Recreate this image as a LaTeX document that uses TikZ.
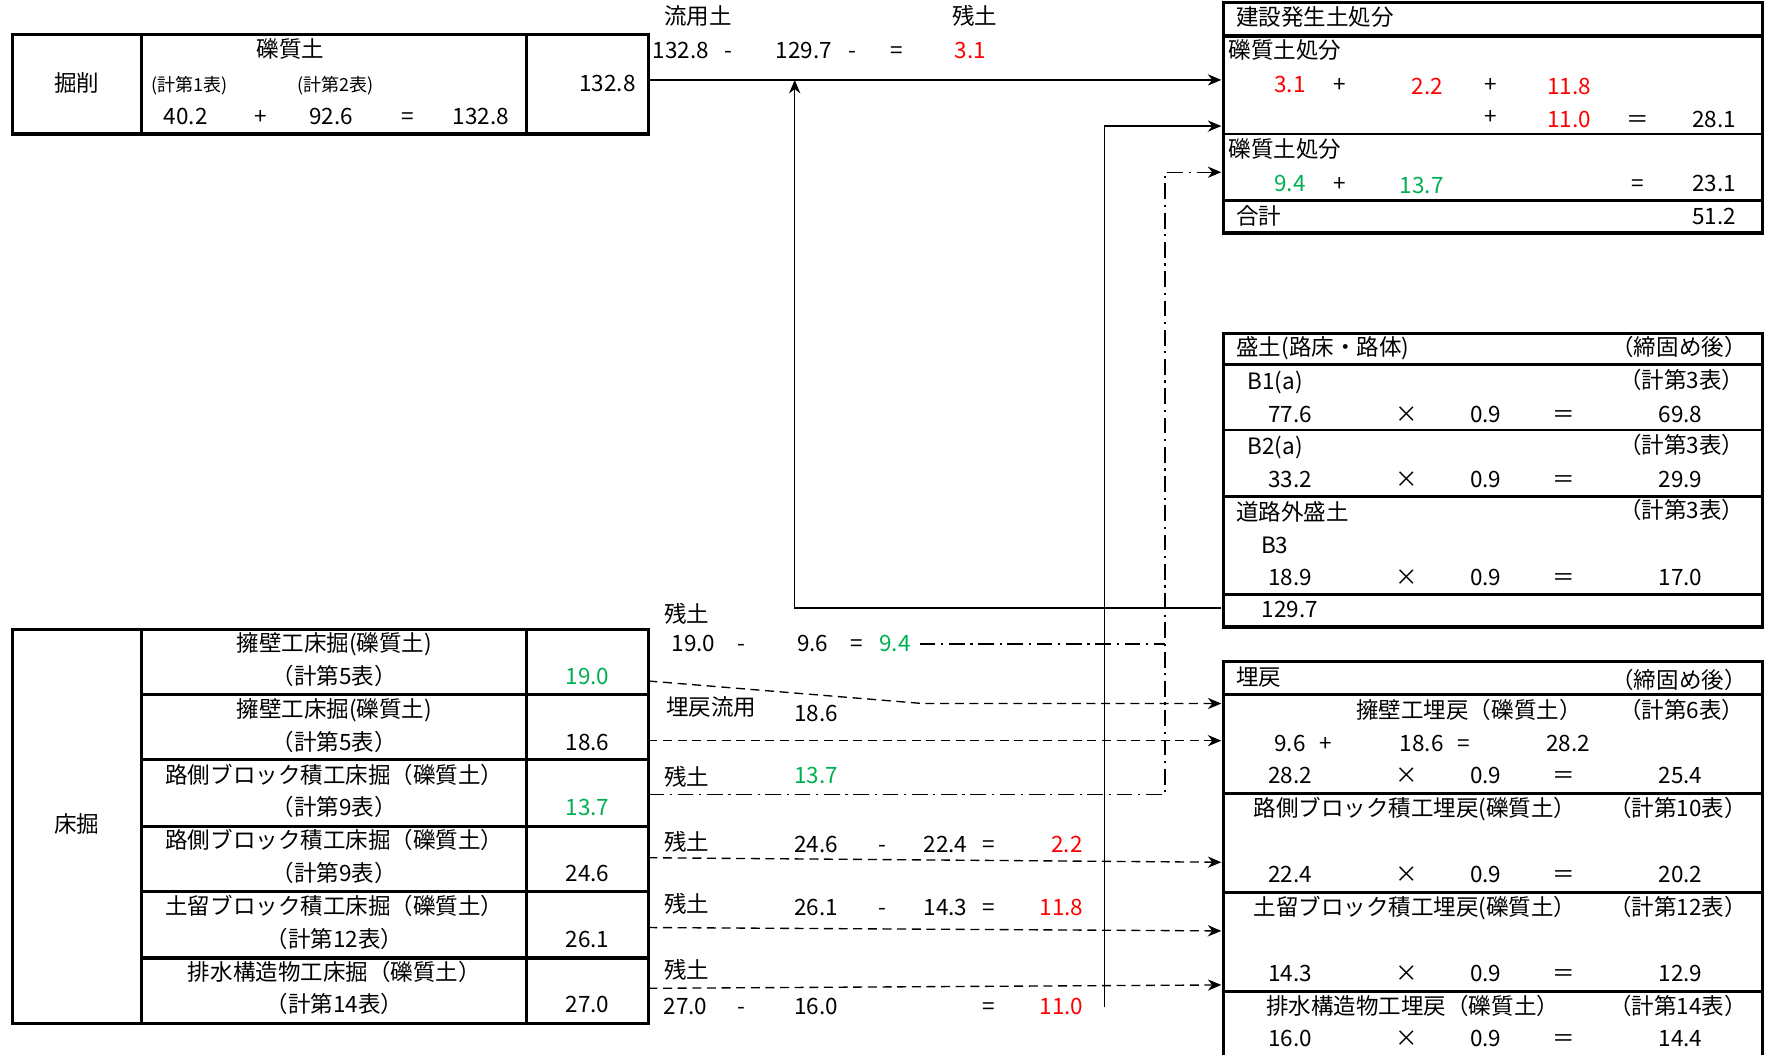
\documentclass[tikz,border=0pt]{standalone}
\usepackage{fontspec}
\setmainfont{Noto Sans CJK JP}
\usetikzlibrary{arrows.meta,positioning}
\definecolor{zanred}{RGB}{255,0,0}
\definecolor{zangreen}{RGB}{0,176,80}
\tikzset{
  frame/.style={line width=1.4pt},
  rule/.style={line width=0.6pt},
  flow/.style={-{Stealth[length=6pt,width=5pt]}, line width=0.6pt},
  dashflow/.style={flow, dash pattern=on 4pt off 2.5pt},
  chainline/.style={line width=0.6pt, dash pattern=on 7pt off 2.5pt on 1pt off 2.5pt},
  chainflow/.style={flow, chainline},
  lbl/.style={inner sep=0pt, text height=0.75em, text depth=0.15em,
    font=\fontsize{10}{12}\selectfont},
  sml/.style={lbl, font=\fontsize{8}{10}\selectfont},
}

\begin{document}
\begin{tikzpicture}[x=0.5pt, y=-0.5pt]
  \useasboundingbox (0,0) rectangle (1568,937);

  % 掘削
  \draw[frame] (11,31) rectangle (576,119);
  \draw[frame] (126,31) -- (126,119) (468,31) -- (468,119);
  \node[lbl] (kus) at (68,75) {掘削};
  \node[lbl] (kusT) at (258,45) {礫質土};
  \node[sml] (kusH1) at (168,75) {(計第1表)};
  \node[sml] (kusH2) at (298,75) {(計第2表)};
  \node[lbl] (kusV1) at (165,105) {40.2};
  \node[lbl] (kusP) at (232,105) {+};
  \node[lbl] (kusV2) at (294,105) {92.6};
  \node[lbl] (kusE) at (362,105) {=};
  \node[lbl] (kusS) at (427,105) {132.8};
  \node[lbl, anchor=east] (kusR) at (565,75) {132.8};

  % 流用土 / 残土
  \node[lbl] (ryuT) at (620,16) {流用土};
  \node[lbl] (zanT) at (866,16) {残土};
  \node[lbl] (ry1) at (605,46) {132.8};
  \node[lbl] (ry2) at (647,46) {-};
  \node[lbl] (ry3) at (714,46) {129.7};
  \node[lbl] (ry4) at (757,46) {-};
  \node[lbl] (ry5) at (797,46) {=};
  \node[lbl, text=zanred] (ry6) at (862,46) {3.1};

  % 建設発生土処分
  \draw[frame] (1087,2) rectangle (1566,207);
  \draw[frame] (1087,32) -- (1566,32) (1087,178) -- (1566,178);
  \draw[rule] (1087,119) -- (1566,119);
  \node[lbl, anchor=west] (ken) at (1098,17) {建設発生土処分};
  \node[lbl, anchor=west] (kenS1) at (1091,46) {礫質土処分};
  \node[lbl, text=zanred] (ken1) at (1146,76) {3.1};
  \node[lbl] (ken2) at (1190,76) {+};
  \node[lbl, text=zanred] (ken3) at (1268,78) {2.2};
  \node[lbl] (ken4) at (1324,76) {+};
  \node[lbl, text=zanred] (ken5) at (1394,78) {11.8};
  \node[lbl] (ken6) at (1324,105) {+};
  \node[lbl, text=zanred] (ken7) at (1394,107) {11.0};
  \node[lbl] (ken8) at (1455,107) {＝};
  \node[lbl] (ken9) at (1523,107) {28.1};
  \node[lbl, anchor=west] (kenS2) at (1091,134) {礫質土処分};
  \node[lbl, text=zangreen] (kenG1) at (1146,164) {9.4};
  \node[lbl] (kenG2) at (1190,164) {+};
  \node[lbl, text=zangreen] (kenG3) at (1263,166) {13.7};
  \node[lbl] (kenG4) at (1455,164) {=};
  \node[lbl] (kenG5) at (1523,164) {23.1};
  \node[lbl, anchor=west] (kenSum) at (1098,193) {合計};
  \node[lbl] (kenTot) at (1523,193) {51.2};

  % 盛土
  \draw[frame] (1087,296) rectangle (1566,557);
  \draw[frame] (1087,324) -- (1566,324) (1087,441) -- (1566,441) (1087,528) -- (1566,528);
  \draw[rule] (1087,382) -- (1566,382);
  \node[lbl, anchor=west] (mori) at (1098,310) {盛土(路床・路体)};
  \node[lbl, anchor=east] (moriK) at (1552,310) {（締固め後）};
  \node[lbl, anchor=west] (mB1) at (1108,340) {B1(a)};
  \node[lbl, anchor=east] (mB1t) at (1550,339) {（計第3表）};
  \node[lbl, anchor=west] (mB2) at (1108,398) {B2(a)};
  \node[lbl, anchor=east] (mB2t) at (1550,397) {（計第3表）};
  \node[lbl, anchor=west] (mB3h) at (1098,456) {道路外盛土};
  \node[lbl, anchor=east] (mB3t) at (1550,455) {（計第3表）};
  \node[lbl, anchor=west] (mB3) at (1120,486) {B3};
  \foreach \y/\a/\b/\n in {369/77.6/69.8/1, 427/33.2/29.9/2, 514/18.9/17.0/3}{
    \node[lbl] (mv\n a) at (1146,\y) {\a};
    \node[lbl] (mv\n x) at (1250,\y) {×};
    \node[lbl] (mv\n f) at (1320,\y) {0.9};
    \node[lbl] (mv\n e) at (1389,\y) {＝};
    \node[lbl] (mv\n b) at (1493,\y) {\b};
  }
  \node[lbl] (moriTot) at (1146,543) {129.7};

  % 埋戻
  \draw[frame] (1087,937) |- (1566,588) -- (1566,937);
  \draw[frame] (1087,617) -- (1566,617) (1087,705) -- (1566,705)
    (1087,793) -- (1566,793) (1087,881) -- (1566,881);
  \node[lbl, anchor=west] (ume) at (1098,603) {埋戻};
  \node[lbl, anchor=east] (umeK) at (1552,606) {（締固め後）};
  \node[lbl] (u1) at (1305,632) {擁壁工埋戻（礫質土）};
  \node[lbl, anchor=east] (u1t) at (1550,632) {（計第6表）};
  \node[lbl] (u1a) at (1146,662) {9.6};
  \node[lbl] (u1b) at (1178,662) {+};
  \node[lbl] (u1c) at (1263,662) {18.6};
  \node[lbl] (u1d) at (1300,662) {=};
  \node[lbl] (u1e) at (1393,662) {28.2};
  \node[lbl] (u2) at (1257,719) {路側ブロック積工埋戻(礫質土）};
  \node[lbl, anchor=east] (u2t) at (1552,719) {（計第10表）};
  \node[lbl] (u3) at (1257,807) {土留ブロック積工埋戻(礫質土）};
  \node[lbl, anchor=east] (u3t) at (1552,807) {（計第12表）};
  \node[lbl] (u4) at (1255,895) {排水構造物工埋戻（礫質土）};
  \node[lbl, anchor=east] (u4t) at (1552,895) {（計第14表）};
  \foreach \y/\a/\b/\n in {690/28.2/25.4/1, 778/22.4/20.2/2, 866/14.3/12.9/3, 924/16.0/14.4/4}{
    \node[lbl] (uv\n a) at (1146,\y) {\a};
    \node[lbl] (uv\n x) at (1250,\y) {×};
    \node[lbl] (uv\n f) at (1320,\y) {0.9};
    \node[lbl] (uv\n e) at (1389,\y) {＝};
    \node[lbl] (uv\n b) at (1493,\y) {\b};
  }

  % 床掘
  \draw[frame] (11,559) rectangle (576,909);
  \draw[frame] (126,559) -- (126,909) (468,559) -- (468,909);
  \foreach \y in {617,675,734,792,851}
    \draw[frame] (126,\y) -- (576,\y);
  \node[lbl] (toko) at (68,734) {床掘};
  \foreach \i/\nm/\tb/\v/\c in {
      1/擁壁工床掘(礫質土)/5/19.0/zangreen,
      2/擁壁工床掘(礫質土)/5/18.6/black,
      3/路側ブロック積工床掘（礫質土）/9/13.7/zangreen,
      4/路側ブロック積工床掘（礫質土）/9/24.6/black,
      5/土留ブロック積工床掘（礫質土）/12/26.1/black,
      6/排水構造物工床掘（礫質土）/14/27.0/black}{
    \pgfmathsetmacro\ry{559+(\i-1)*58.33}
    \node[lbl] (tk\i) at (297,\ry+14) {\nm};
    \node[lbl] (tt\i) at (297,\ry+43) {（計第\tb 表）};
    \node[lbl, text=\c] (tv\i) at (522,\ry+43) {\v};
  }

  % 残土・流用の計算
  \node[lbl] (z1T) at (610,547) {残土};
  \node[lbl] (z1a) at (616,573) {19.0};
  \node[lbl] (z1b) at (659,573) {-};
  \node[lbl] (z1c) at (722,573) {9.6};
  \node[lbl] (z1d) at (761,573) {=};
  \node[lbl, text=zangreen] (z1e) at (795,573) {9.4};
  \node[lbl] (z2T) at (632,630) {埋戻流用};
  \node[lbl] (z2a) at (725,635) {18.6};
  \node[lbl] (z3T) at (610,692) {残土};
  \node[lbl, text=zangreen] (z3a) at (725,690) {13.7};
  \node[lbl] (z4T) at (610,750) {残土};
  \node[lbl] (z4a) at (725,751) {24.6};
  \node[lbl] (z4b) at (784,751) {-};
  \node[lbl] (z4c) at (840,751) {22.4};
  \node[lbl] (z4d) at (878,751) {=};
  \node[lbl, text=zanred] (z4e) at (948,751) {2.2};
  \node[lbl] (z5T) at (610,805) {残土};
  \node[lbl] (z5a) at (725,807) {26.1};
  \node[lbl] (z5b) at (784,807) {-};
  \node[lbl] (z5c) at (840,807) {14.3};
  \node[lbl] (z5d) at (878,807) {=};
  \node[lbl, text=zanred] (z5e) at (943,807) {11.8};
  \node[lbl] (z6T) at (610,863) {残土};
  \node[lbl] (z6a) at (609,895) {27.0};
  \node[lbl] (z6b) at (659,895) {-};
  \node[lbl] (z6c) at (725,895) {16.0};
  \node[lbl] (z6d) at (878,895) {=};
  \node[lbl, text=zanred] (z6e) at (943,895) {11.0};

  % connectors
  \coordinate (kusOut) at (576,71);
  \coordinate (kenA) at (1085,71);
  \coordinate (ryuIn) at (706,71);
  \coordinate (moriOut) at (1085,540);
  \coordinate (z6Out) at (981,895);
  \coordinate (kenB) at (1085,112);
  \coordinate (tk3Out) at (576,706);
  \coordinate (chainTop) at (1035,153);
  \coordinate (kenC) at (1085,153);
  \coordinate (z1Out) at (817,572);
  \coordinate (chainJ) at (1035,572);
  \coordinate (tk1Out) at (576,605);
  \coordinate (tk1Bend) at (820,625);
  \coordinate (umeA) at (1085,625);
  \coordinate (tk2Out) at (576,658);
  \coordinate (umeB) at (1085,658);
  \coordinate (tk4Out) at (576,762);
  \coordinate (umeC) at (1085,766);
  \coordinate (tk5Out) at (576,824);
  \coordinate (umeD) at (1085,827);
  \coordinate (tk6Out) at (576,878);
  \coordinate (umeE) at (1085,875);

  \draw[flow] (kusOut) -- (kenA);
  \draw[flow] (moriOut) -| (ryuIn);
  \draw[flow] (z6Out) |- (kenB);
  \draw[chainflow] (tk3Out) -| (chainTop) -- (kenC);
  \draw[chainline] (z1Out) -- (chainJ);
  \draw[dashflow] (tk1Out) -- (tk1Bend) -- (umeA);
  \draw[dashflow] (tk2Out) -- (umeB);
  \draw[dashflow] (tk4Out) -- (umeC);
  \draw[dashflow] (tk5Out) -- (umeD);
  \draw[dashflow] (tk6Out) -- (umeE);
\end{tikzpicture}
\end{document}
